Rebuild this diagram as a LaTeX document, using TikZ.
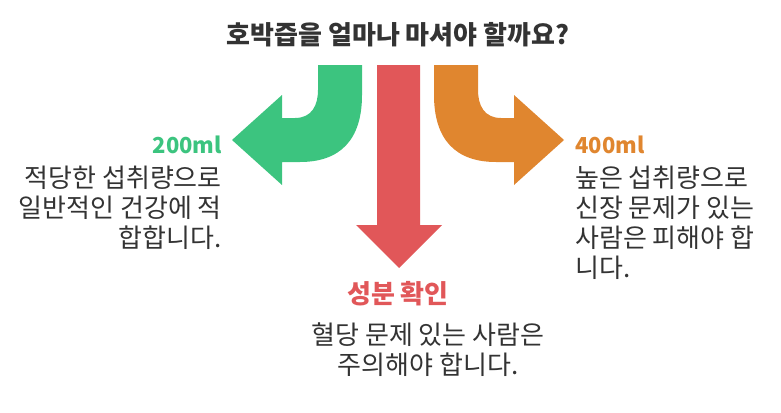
\documentclass[tikz,border=0pt]{standalone}
\usepackage{fontspec}
\setmainfont{Noto Sans CJK KR}
\definecolor{cg}{HTML}{3CC47F}
\definecolor{cr}{HTML}{E15759}
\definecolor{co}{HTML}{E0862F}
\definecolor{tx}{HTML}{333333}
\begin{document}
\begin{tikzpicture}[x=1pt,y=-1pt,
  body/.style={font=\fontsize{26}{30}\selectfont,text=tx,inner sep=0pt},
  head/.style={font=\fontsize{26}{30}\selectfont\bfseries,inner sep=0pt},
  lat/.style={font=\fontsize{22}{30}\selectfont\bfseries,inner sep=0pt}]
\useasboundingbox (0,0) rectangle (781,412);
\node[head,text=tx] (title) at (398,35) {호박즙을 얼마나 마셔야 할까요?};
% green
\fill[cg] (362,65) -- (362,95) .. controls (362,140) and (340,162) .. (300,162) -- (282,162) -- (282,185) -- (232,140) -- (282,95) -- (282,118) -- (295,118) .. controls (312,118) and (318,105) .. (318,90) -- (318,65) -- cycle;
% orange
\fill[co] (434,65) -- (434,95) .. controls (434,140) and (456,162) .. (496,162) -- (514,162) -- (514,185) -- (564,140) -- (514,95) -- (514,118) -- (501,118) .. controls (484,118) and (478,105) .. (478,90) -- (478,65) -- cycle;
% red
\fill[cr] (377,65) -- (420,65) -- (420,225) -- (442,225) -- (399,268) -- (356,225) -- (377,225) -- cycle;
\node[lat,text=cg,anchor=east] (l1) at (222,145) {200ml};
\node[body,anchor=north east,align=right] (l2) at (222,166) {적당한 섭취량으로\\일반적인 건강에 적\\합합니다.};
\node[lat,text=co,anchor=west] (r1) at (575,145) {400ml};
\node[body,anchor=north west,align=left] (r2) at (575,166) {높은 섭취량으로\\신장 문제가 있는\\사람은 피해야 합\\니다.};
\node[head,text=cr] (c1) at (398,294) {성분 확인};
\node[body,anchor=north,align=center] (c2) at (428,323) {혈당 문제 있는 사람은\\주의해야 합니다.};
\end{tikzpicture}
\end{document}
